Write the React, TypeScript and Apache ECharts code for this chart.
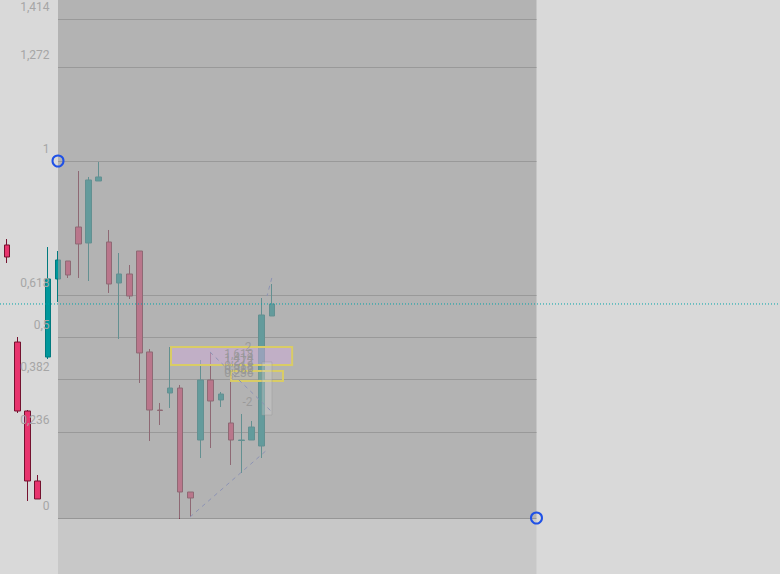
import React, { useEffect, useRef } from "react";
import * as echarts from "echarts";

// ---- candle data (index = bar number, prices) ----
const candleOpen = [
  102.998, 104.557, 102.914, 101.762, 100.606, 102.662, 103.978, 104.284, 104.864, 104.591,
  105.655, 104.608, 103.910, 104.063, 104.454, 102.747, 101.778, 102.061, 102.144, 100.425,
  101.281, 102.278, 101.945, 101.563, 101.273, 101.281, 101.182, 103.352,
];
const candleClose = [
  104.557, 104.352, 101.762, 100.606, 100.311, 103.978, 104.301, 104.046, 104.574, 105.672,
  105.724, 103.893, 104.063, 103.690, 102.730, 101.778, 101.770, 102.144, 100.425, 100.327,
  102.278, 101.928, 102.044, 101.281, 101.281, 101.496, 103.369, 103.555,
];
const candleLow = [
  102.948, 104.250, 101.729, 100.278, 100.311, 102.629, 103.588, 103.995, 103.995, 103.944,
  105.655, 103.741, 102.965, 103.639, 102.228, 101.265, 101.529, 101.812, 99.984, 100.016,
  100.984, 101.149, 101.828, 100.869, 100.737, 101.281, 100.984, 103.352,
];
const candleHigh = [
  104.591, 104.659, 102.998, 101.778, 100.704, 104.522, 104.454, 104.284, 105.827, 105.724,
  105.983, 104.813, 104.420, 104.216, 104.454, 102.797, 101.895, 102.830, 102.195, 100.425,
  102.612, 102.730, 102.078, 102.428, 101.712, 101.596, 103.656, 103.893,
];

// ---- Fibonacci retracement drawing ----
const fibLevels = [0, 0.236, 0.382, 0.5, 0.618, 1, 1.272, 1.414];
const fibLabels = ["0", "0,236", "0,382", "0,5", "0,618", "1", "1,272", "1,414"];
const fibAnchorIdx = [6, 53];
const fibAnchorPrice = [106, 100]; // level 1 at the start handle, level 0 at the end handle

// ---- small nested drawing inside the zone ----
const miniLabels = ["2", "1,618", "1,414", "1,272", "0,618", "0,5", "0,382", "0,236", "-2"];
const miniLabelIdx = [25.06, 25.25, 25.25, 25.25, 25.25, 25.25, 25.25, 25.25, 25.16];
const miniLabelPrice = [102.83, 102.713, 102.646, 102.596, 102.512, 102.479, 102.445, 102.395, 101.911];
const miniBoxA = [[17.1, 102.83], [29.0, 102.529]];
const miniBoxB = [[23.0, 102.428], [28.1, 102.261]];
const miniColumn = [[26.04, 102.579], [27.02, 101.695]];
const miniDashed = [
  [[18.97, 100.016], [26.63, 101.133]],
  [[20.93, 102.747], [27.02, 101.745]],
  [[27.0, 103.995], [26.53, 103.69]],
];

// ---- visible axis windows ----
const xRange = [0.3026, 76.92];
const yRange = [99.0901, 108.8224];

function buildOption() {
  const candleData = candleOpen.map((o, i) => [i, o, candleClose[i], candleLow[i], candleHigh[i]]);
  const lastClose = candleClose[candleClose.length - 1];
  const [x0, x1] = fibAnchorIdx;
  const fibHigh = fibAnchorPrice[0];
  const fibLow = fibAnchorPrice[1];
  const fibPrice = (L: number) => fibLow + L * (fibHigh - fibLow);

  return {
    animation: false,
    backgroundColor: "#d9d9d9",
    grid: { left: 0, right: 0, top: 0, bottom: 0 },
    xAxis: { type: "value", min: xRange[0], max: xRange[1], show: false },
    yAxis: { type: "log", logBase: 10, min: yRange[0], max: yRange[1], show: false },
    series: [
      {
        type: "candlestick",
        data: candleData,
        barWidth: 6,
        clip: false,
        itemStyle: {
          color: "#00979b",
          color0: "#e8346e",
          borderColor: "#007a7e",
          borderColor0: "#74122f",
          borderWidth: 1,
        },
        markArea: {
          silent: true,
          z: 3,
          data: [
            [
              { coord: [x0, yRange[1]], itemStyle: { color: "rgba(157,157,157,0.63)" } },
              { coord: [x1, fibLow] },
            ],
            [
              { coord: [x0, fibLow], itemStyle: { color: "rgba(157,157,157,0.28)" } },
              { coord: [x1, yRange[0]] },
            ],
          ],
        },
        markPoint: {
          silent: true,
          z: 7,
          symbol: "circle",
          symbolSize: 11,
          itemStyle: { color: "rgba(0,0,0,0)", borderColor: "#1f51e6", borderWidth: 2 },
          label: { show: false },
          data: [{ coord: [x0, fibHigh] }, { coord: [x1, fibLow] }],
        },
      },
      {
        // fib level lines (under the candles)
        type: "line",
        data: [],
        silent: true,
        markLine: {
          silent: true,
          z: 1,
          symbol: ["none", "none"],
          label: { show: false },
          lineStyle: { color: "#939393", type: "solid", width: 1 },
          data: fibLevels.map((L) => [{ coord: [x0, fibPrice(L)] }, { coord: [x1, fibPrice(L)] }]),
        },
      },
      {
        // nested mini drawing
        type: "line",
        data: [],
        silent: true,
        markArea: {
          silent: true,
          z: 4,
          data: [
            [
              {
                coord: miniBoxA[0],
                itemStyle: { color: "rgba(210,170,222,0.45)", borderColor: "#d9cc66", borderWidth: 2 },
              },
              { coord: miniBoxA[1] },
            ],
            [
              {
                coord: miniBoxB[0],
                itemStyle: { color: "rgba(220,210,150,0.15)", borderColor: "#d9cc66", borderWidth: 2 },
              },
              { coord: miniBoxB[1] },
            ],
            [
              {
                coord: miniColumn[0],
                itemStyle: { color: "rgba(210,210,210,0.35)", borderColor: "rgba(150,150,150,0.4)", borderWidth: 1 },
              },
              { coord: miniColumn[1] },
            ],
          ],
        },
        markPoint: {
          silent: true,
          z: 4,
          symbol: "circle",
          symbolSize: 1,
          itemStyle: { color: "rgba(0,0,0,0)" },
          label: {
            show: true,
            position: "left",
            distance: 0,
            color: "rgba(150,150,150,0.85)",
            fontSize: 12,
            fontFamily: "Roboto",
            formatter: "{b}",
          },
          data: miniLabels.map((t, i) => ({ name: t, coord: [miniLabelIdx[i], miniLabelPrice[i]] })),
        },
        markLine: {
          silent: true,
          z: 4,
          symbol: ["none", "none"],
          label: { show: false },
          lineStyle: { color: "#8d93b3", type: [4, 4], width: 1 },
          data: miniDashed.map((seg) => [{ coord: seg[0] }, { coord: seg[1] }]),
        },
      },
      {
        // fib level labels
        type: "line",
        data: [],
        silent: true,
        markPoint: {
          silent: true,
          z: 4,
          symbol: "circle",
          symbolSize: 1,
          itemStyle: { color: "rgba(0,0,0,0)" },
          label: {
            show: true,
            position: "left",
            distance: 8,
            verticalAlign: "bottom",
            lineHeight: 24,
            color: "#a6a6a6",
            fontSize: 12,
            fontFamily: "Roboto",
            formatter: "{b}",
          },
          data: fibLevels.map((L, i) => ({ name: fibLabels[i], coord: [x0, fibPrice(L)] })),
        },
      },
      {
        // current price line (last close), across the full width
        type: "line",
        silent: true,
        z: 6,
        symbol: "none",
        data: [
          [xRange[0], lastClose],
          [xRange[1], lastClose],
        ],
        itemStyle: { color: "#00a3a8" },
        lineStyle: { color: "#00a3a8", type: [1, 2], width: 1 },
      },
    ],
  };
}

export default function App() {
  const ref = useRef<HTMLDivElement>(null);
  useEffect(() => {
    const chart = echarts.init(ref.current as HTMLDivElement, null, { renderer: "svg" });
    chart.setOption(buildOption() as any);
    return () => chart.dispose();
  }, []);
  return (
    <div
      ref={ref}
      style={{ position: "fixed", left: 0, top: 0, width: 780, height: 574 }}
    />
  );
}
